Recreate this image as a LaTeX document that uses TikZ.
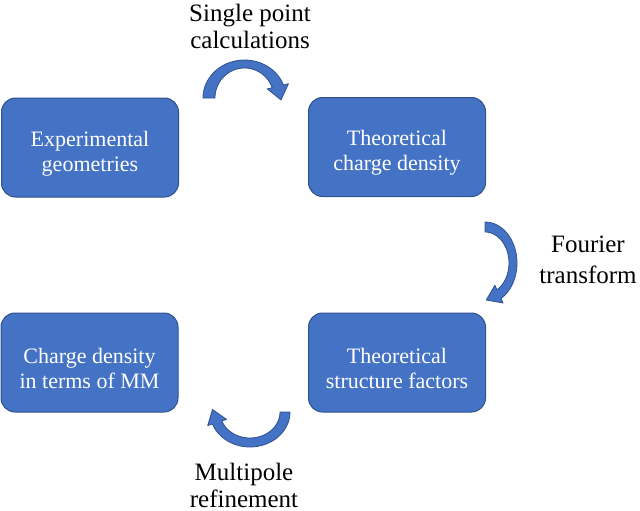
\documentclass[tikz,border=0pt]{standalone}
\usepackage{fontspec}
\setmainfont{Liberation Serif}
\definecolor{boxblue}{HTML}{4472C4}
\definecolor{boxedge}{HTML}{2F528F}

\begin{document}
\begin{tikzpicture}[x=1pt,y=-1pt,line join=round]
\tikzset{B/.style={rectangle,rounded corners=14pt,fill=boxblue,draw=boxedge,line width=1pt,minimum width=177pt,minimum height=99pt},
  T/.style={text=white,align=center,font=\fontsize{22}{25}\selectfont},
  L/.style={align=center,font=\fontsize{25}{27}\selectfont},
  A/.style={fill=boxblue,draw=boxedge,line width=.8pt}}
\useasboundingbox (0,0) rectangle (640,511);
\foreach \n/\px/\py/\lab in {exp/90/147.5/{Experimental\\geometries},tcd/397/147/{Theoretical\\charge density},
  ccd/89.5/362.5/{Charge density\\in terms of MM},tsf/397/362.5/{Theoretical\\structure factors}}{
  \node[B] (\n) at (\px,\py) {};
  \node[T] (\n-t) at ([yshift=-6pt]\n.center) {\lab};}
% curved block arrows
\path[A] plot[domain=180:340,samples=40] ({244.5+41.5*cos(\x)},{98+38*sin(\x)}) -- (288.4,83.8) -- (281,100) -- (267.3,88.9)
  -- plot[domain=340:180,samples=40] ({244.5+29.5*cos(\x)},{98+30*sin(\x)}) -- cycle;
\path[A] plot[domain=270:420,samples=40] ({485+32*cos(\x)},{263+41*sin(\x)}) -- (503.1,303) -- (486.3,300) -- (494.9,285.3)
  -- plot[domain=420:270,samples=40] ({485+24*cos(\x)},{263+31*sin(\x)}) -- cycle;
\path[A] plot[domain=0:160,samples=40] ({250+40*cos(\x)},{412+35*sin(\x)}) -- (207.7,425.6) -- (212.5,409.5) -- (226.5,419.4)
  -- plot[domain=160:0,samples=40] ({250+30*cos(\x)},{412+26*sin(\x)}) -- cycle;
\node[L] (spc) at (250,26) {Single point\\calculations};
\node[L,font=\fontsize{25}{31}\selectfont] (ft) at (588,260) {Fourier\\transform};
\node[L,inner ysep=1pt] (mpr) at (244,485) {Multipole\\refinement};
\end{tikzpicture}
\end{document}
